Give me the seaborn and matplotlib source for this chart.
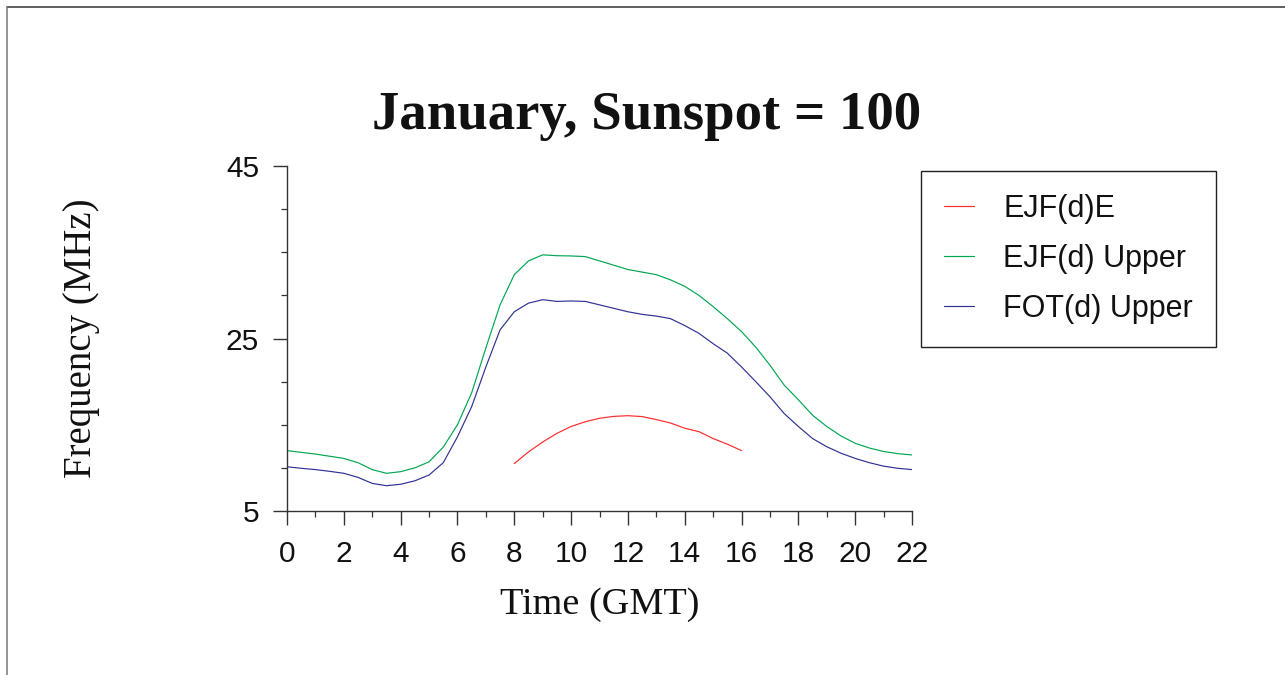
import numpy as np
import pandas as pd
import seaborn as sns
import matplotlib
matplotlib.use("Agg")
import matplotlib.pyplot as plt
from matplotlib.lines import Line2D
from matplotlib.ticker import MultipleLocator

# ---- data ----
hours = [0, 0.5, 1, 1.5, 2, 2.5, 3, 3.5, 4, 4.5, 5, 5.5, 6, 6.5, 7, 7.5, 8, 8.5,
         9, 9.5, 10, 10.5, 11, 11.5, 12, 12.5, 13, 13.5, 14, 14.5, 15, 15.5, 16,
         16.5, 17, 17.5, 18, 18.5, 19, 19.5, 20, 20.5, 21, 21.5, 22]

ejf_upper = [12.0, 11.8, 11.6, 11.35, 11.1, 10.6, 9.8, 9.37, 9.56, 10.0, 10.7,
             12.4, 15.0, 18.7, 23.9, 28.9, 32.4, 34.0, 34.7, 34.6, 34.57, 34.5,
             34.0, 33.5, 33.0, 32.7, 32.4, 31.8, 31.05, 30.0, 28.7, 27.3, 25.8,
             24.0, 21.9, 19.6, 17.9, 16.1, 14.8, 13.7, 12.85, 12.3, 11.9, 11.65,
             11.5]

fot_upper = [10.13, 9.95, 9.8, 9.6, 9.37, 8.9, 8.2, 7.93, 8.1, 8.5, 9.17, 10.6,
             13.6, 17.1, 21.7, 26.0, 28.1, 29.1, 29.5, 29.3, 29.35, 29.3, 28.9,
             28.5, 28.1, 27.8, 27.6, 27.3, 26.5, 25.6, 24.4, 23.3, 21.7, 20.0,
             18.25, 16.3, 14.8, 13.4, 12.45, 11.7, 11.1, 10.6, 10.2, 9.95, 9.8]

e_hours = [8, 8.5, 9, 9.5, 10, 10.5, 11, 11.5, 12, 12.5, 13, 13.5, 14, 14.5, 15,
           15.5, 16]
ejf_e = [10.5, 11.85, 13.0, 14.0, 14.8, 15.35, 15.75, 15.97, 16.05, 15.95, 15.6,
         15.2, 14.6, 14.2, 13.4, 12.75, 12.0]

series_names = ["EJF(d)E", "EJF(d) Upper", "FOT(d) Upper"]
series_colors = ["#ff2a2a", "#00a651", "#2e3192"]

x_ticks = [0, 2, 4, 6, 8, 10, 12, 14, 16, 18, 20, 22]
y_ticks = [5, 25, 45]

title_text = "January, Sunspot = 100"
x_label = "Time (GMT)"
y_label = "Frequency (MHz)"

# ---- long table ----
df = pd.concat([
    pd.DataFrame({"hour": e_hours, "freq": ejf_e, "series": series_names[0]}),
    pd.DataFrame({"hour": hours, "freq": ejf_upper, "series": series_names[1]}),
    pd.DataFrame({"hour": hours, "freq": fot_upper, "series": series_names[2]}),
], ignore_index=True)

sns.set_theme(style="ticks")
plt.rcParams["font.family"] = ["Liberation Sans", "DejaVu Sans"]

W, H = 1285, 675
fig = plt.figure(figsize=(W / 100, H / 100), dpi=100)
fig.patch.set_facecolor("white")
ax = fig.add_axes([287 / W, 1 - 511 / H, (912 - 287) / W, (511 - 166) / H])

sns.lineplot(data=df, x="hour", y="freq", hue="series", hue_order=series_names,
             palette=dict(zip(series_names, series_colors)), estimator=None,
             linewidth=0.85, ax=ax)

ax.set_xlim(0, 22)
ax.set_ylim(5, 45)
ax.set_xticks(x_ticks)
ax.set_yticks(y_ticks)
ax.xaxis.set_minor_locator(MultipleLocator(1))
ax.yaxis.set_minor_locator(MultipleLocator(5))

spine_col = "#333333"
for s in ["top", "right"]:
    ax.spines[s].set_visible(False)
for s in ["left", "bottom"]:
    ax.spines[s].set_color(spine_col)
    ax.spines[s].set_linewidth(1.0)

ax.tick_params(axis="both", which="major", length=10, width=1.0, color=spine_col,
               direction="out", labelsize=21.5, labelcolor="#111111")
ax.tick_params(axis="both", which="minor", length=4.5, width=0.9, color=spine_col,
               direction="out")
ax.tick_params(axis="x", which="major", pad=11)
ax.tick_params(axis="y", which="major", pad=10)

serif = ["Liberation Serif", "DejaVu Serif"]
ax.set_xlabel(x_label, fontsize=27.5, family=serif, color="#111111", labelpad=14)
ax.set_ylabel(y_label, fontsize=28, family=serif, color="#111111")
ax.yaxis.set_label_coords(-0.30, 0.5)

fig.text(0.503, 1 - 129 / H, title_text, ha="center", va="baseline",
         fontsize=39.4, fontweight="bold", family=serif, color="#111111")

handles, labels = ax.get_legend_handles_labels()
leg = ax.legend(handles, labels, loc="upper left",
                bbox_to_anchor=(921 / W, 1 - 171 / H),
                bbox_transform=fig.transFigure, borderaxespad=0,
                fontsize=22, frameon=True, fancybox=False, framealpha=1,
                edgecolor="#222222", borderpad=0.74, labelspacing=0.66,
                handlelength=1.0, handletextpad=0.95)
leg.get_frame().set_linewidth(1.0)
for t in leg.get_texts():
    t.set_color("#111111")

# figure border (top and left only, as in the reference)
fig.add_artist(Line2D([7 / W, 1], [1 - 7 / H, 1 - 7 / H],
                      transform=fig.transFigure, color="#333333", lw=1.1))
fig.add_artist(Line2D([7 / W, 7 / W], [0, 1 - 7 / H],
                      transform=fig.transFigure, color="#777777", lw=1.1))

fig.savefig("out.png", dpi=100, facecolor="white")
